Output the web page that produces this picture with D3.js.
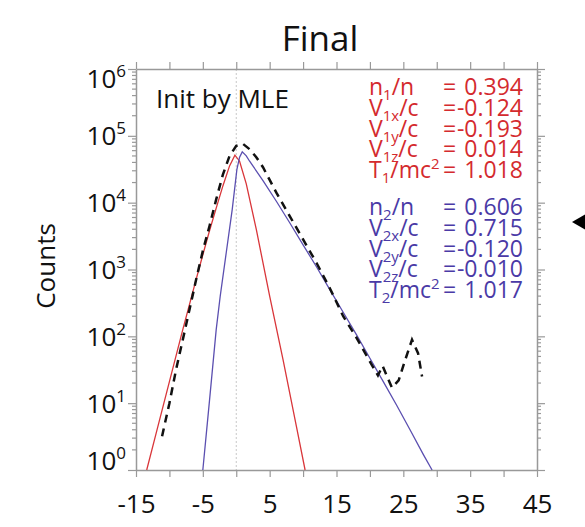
<!DOCTYPE html>
<html>
<head>
<meta charset="utf-8">
<script src="https://cdn.jsdelivr.net/npm/d3@7"></script>
<style>
  body { margin: 0; background: #fff; }
  svg { font-family: "Open Sans", sans-serif; }
  .axis path { stroke: #999; stroke-width: 1.5px; fill: none; }
  .axis line { stroke: #999; stroke-width: 1.2px; }
  .axis text { fill: #111; font-size: 26px; font-family: "Open Sans", sans-serif; }
</style>
</head>
<body>
<svg id="chart" width="585" height="527"></svg>
<script>
// x ticks (every 5) and which get labels
var xTicks = d3.range(-15, 46, 5);
var xLabels = [-15, -5, 5, 15, 25, 35, 45];
var yDecades = [0, 1, 2, 3, 4, 5, 6];

// species 1 fit (red)
var redX = [-13.4, -12, -10, -8, -6, -5, -4, -3, -2, -1, -0.2, 0.5, 1.5, 3, 5, 7, 9, 10.3];
var redCounts = [1, 3.5, 21, 126, 710, 1660, 3800, 8300, 17800, 35500, 51300, 41700, 19100, 3980, 398, 45, 4.5, 1];

// species 2 fit (blue)
var blueX = [-5, -4, -3, -2.4, -1.5, -0.6, 0.1, 0.5, 0.9, 1.5, 2, 4, 6, 8, 10, 12, 14, 16, 18, 20, 22, 24, 26, 28, 29.3];
var blueCounts = [1, 11, 126, 398, 1780, 7940, 31600, 47900, 57500, 50100, 41700, 21400, 10500, 5010, 2340, 1100, 501, 229, 105, 47, 21, 9.3, 4.0, 1.7, 1];

// measured distribution (black dashed)
var dataX = [-11.1, -10, -9, -8, -7, -6, -5, -4, -3, -2, -1, 0, 1, 2, 3, 4, 5, 6, 8, 10, 12, 14, 16, 18, 20, 21.2, 21.9, 23.3, 24.3, 25.3, 26.3, 27.2, 27.8];
var dataCounts = [3.2, 10, 32, 89, 251, 708, 1900, 4470, 11200, 26300, 50100, 70800, 75900, 63100, 47900, 33900, 21900, 14100, 6310, 2820, 1260, 525, 200, 95, 42, 26, 36, 17, 22, 45, 89, 56, 25];

// fit parameters: [base, subscript, rest, superscript]
var names1 = [["n", "1", "/n", ""], ["V", "1x", "/c", ""], ["V", "1y", "/c", ""], ["V", "1z", "/c", ""], ["T", "1", "/mc", "2"]];
var values1 = ["0.394", "-0.124", "-0.193", "0.014", "1.018"];
var names2 = [["n", "2", "/n", ""], ["V", "2x", "/c", ""], ["V", "2y", "/c", ""], ["V", "2z", "/c", ""], ["T", "2", "/mc", "2"]];
var values2 = ["0.606", "0.715", "-0.120", "-0.010", "1.017"];

var svg = d3.select("#chart");
var pL = 136, pR = 537, pT = 69, pB = 470;

var x = d3.scaleLinear().domain([-15, 45]).range([pL, pR]);
var y = d3.scaleLog().domain([1, 1e6]).range([pB, pT]);

// title
svg.append("text").attr("x", 320).attr("y", 51).attr("text-anchor", "middle")
  .style("font-size", "35px").style("fill", "#111").text("Final");

// y label
svg.append("text").attr("transform", "translate(55,266) rotate(-90)")
  .attr("text-anchor", "middle").style("font-size", "26px").style("fill", "#111").text("Counts");

// dotted zero line
svg.append("line").attr("x1", x(0)).attr("x2", x(0)).attr("y1", pT).attr("y2", pB)
  .style("stroke", "#c8c8c8").style("stroke-width", 1).style("stroke-dasharray", "2 2");

// bottom / top axes
svg.append("g").attr("class", "axis").attr("transform", "translate(0," + pB + ")")
  .call(d3.axisBottom(x).tickValues(xTicks).tickSize(7).tickSizeOuter(0)
    .tickFormat(d => xLabels.indexOf(d) >= 0 ? d : ""))
  .selectAll("text").attr("dy", "1.27em");
svg.append("g").attr("class", "axis").attr("transform", "translate(0," + pT + ")")
  .call(d3.axisTop(x).tickValues(xTicks).tickSize(7).tickSizeOuter(0).tickFormat(""));

// minor log ticks
var minor = [];
yDecades.slice(0, -1).forEach(function(e) {
  for (var k = 2; k <= 9; k++) minor.push(k * Math.pow(10, e));
});
var majors = yDecades.map(e => Math.pow(10, e));

var leftAx = svg.append("g").attr("class", "axis").attr("transform", "translate(" + pL + ",0)")
  .call(d3.axisLeft(y).tickValues(majors).tickSize(8).tickSizeOuter(0).tickFormat(""));
leftAx.selectAll(".minor").data(minor).enter().append("line").attr("class", "minor")
  .attr("x1", 0).attr("x2", -4).attr("y1", d => y(d)).attr("y2", d => y(d));
var rightAx = svg.append("g").attr("class", "axis").attr("transform", "translate(" + pR + ",0)")
  .call(d3.axisRight(y).tickValues(majors).tickSize(8).tickSizeOuter(0).tickFormat(""));
rightAx.selectAll(".minor").data(minor).enter().append("line").attr("class", "minor")
  .attr("x1", 0).attr("x2", 4).attr("y1", d => y(d)).attr("y2", d => y(d));

// y tick labels 10^n
var yl = svg.append("g").selectAll("text").data(yDecades).enter().append("text")
  .attr("x", 126).attr("text-anchor", "end")
  .attr("y", d => Math.max(78, Math.min(460, y(Math.pow(10, d)))) + 9.5)
  .style("font-size", "26px").style("fill", "#111");
yl.append("tspan").text("10");
yl.append("tspan").attr("dy", -11).style("font-size", "17px").text(d => d);

// curves
var line = d3.line().x(d => x(d[0])).y(d => y(d[1]));
svg.append("path").datum(d3.zip(redX, redCounts)).attr("d", line)
  .style("fill", "none").style("stroke", "#d9363a").style("stroke-width", 1.3);
svg.append("path").datum(d3.zip(blueX, blueCounts)).attr("d", line)
  .style("fill", "none").style("stroke", "#5b4fb0").style("stroke-width", 1.3);
svg.append("path").datum(d3.zip(dataX, dataCounts)).attr("d", line)
  .style("fill", "none").style("stroke", "#111").style("stroke-width", 2.5)
  .style("stroke-dasharray", "8 6");

// annotation
svg.append("text").attr("x", 156).attr("y", 108).style("font-size", "26px")
  .style("fill", "#111").text("Init by MLE");

function paramBlock(names, values, y0, color) {
  var g = svg.append("g").style("fill", color).style("font-size", "23px");
  names.forEach(function(n, i) {
    var yy = y0 + i * 20.8;
    var t = g.append("text").attr("x", 369).attr("y", yy);
    t.append("tspan").text(n[0]);
    t.append("tspan").attr("dy", 5).style("font-size", "15px").text(n[1]);
    t.append("tspan").attr("dy", -5).text(n[2]);
    if (n[3]) t.append("tspan").attr("dy", -9).style("font-size", "15px").text(n[3]);
    g.append("text").attr("x", 443).attr("y", yy).text("=");
    g.append("text").attr("x", 523).attr("y", yy).attr("text-anchor", "end").text(values[i]);
  });
}
paramBlock(names1, values1, 95, "#d42a2e");
paramBlock(names2, values2, 215, "#4a3aa6");

// marker at right edge
svg.append("path").attr("d", "M572,222 L586,214 L586,230 Z").style("fill", "#000");
</script>
</body>
</html>
